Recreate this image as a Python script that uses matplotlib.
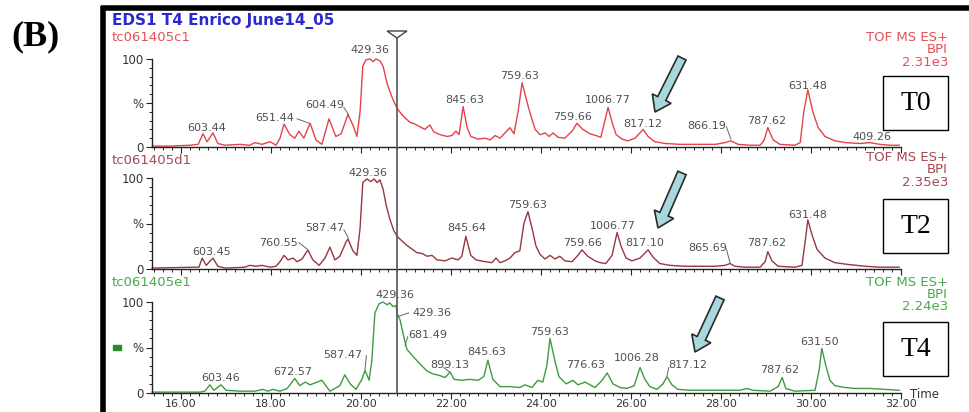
import matplotlib.pyplot as plt
from matplotlib.patches import FancyArrow, Polygon, Rectangle
from matplotlib.ticker import MultipleLocator

plt.rcParams['font.family'] = ['DejaVu Sans']

W, H = 969, 412

# base peak intensity traces: (retention time in min, % of max)
t0_trace = [
    (15.36, 1), (15.76, 1), (16.20, 2), (16.38, 3), (16.49, 15), (16.58, 6), (16.71, 16),
    (16.82, 4), (16.98, 2), (17.31, 3), (17.53, 2), (17.64, 5), (17.80, 3), (17.98, 6),
    (18.11, 2), (18.20, 10), (18.29, 26), (18.42, 14), (18.53, 10), (18.62, 18), (18.73, 10),
    (18.87, 27), (19.00, 8), (19.13, 3), (19.29, 32), (19.44, 12), (19.56, 15), (19.71, 37),
    (19.82, 25), (19.91, 12), (19.98, 40), (20.04, 92), (20.11, 99), (20.20, 100), (20.27, 97),
    (20.33, 100), (20.42, 98), (20.49, 92), (20.58, 72), (20.71, 54), (20.80, 44), (20.89, 38),
    (20.98, 33), (21.09, 28), (21.20, 26), (21.31, 23), (21.42, 20), (21.53, 25), (21.62, 17),
    (21.76, 14), (21.91, 12), (22.02, 13), (22.11, 18), (22.18, 14), (22.27, 46), (22.36, 22),
    (22.44, 12), (22.60, 9), (22.76, 10), (22.87, 8), (22.98, 13), (23.09, 10), (23.20, 16),
    (23.31, 22), (23.40, 15), (23.49, 40), (23.58, 73), (23.67, 55), (23.76, 38), (23.87, 20),
    (23.98, 14), (24.09, 16), (24.18, 12), (24.27, 16), (24.38, 11), (24.53, 10), (24.69, 18),
    (24.80, 27), (24.93, 20), (25.09, 15), (25.22, 13), (25.33, 11), (25.42, 30), (25.49, 45),
    (25.58, 28), (25.67, 14), (25.80, 9), (25.93, 7), (26.09, 10), (26.27, 20), (26.38, 12),
    (26.53, 6), (26.76, 4), (27.09, 3), (27.53, 3), (27.87, 3), (28.09, 5), (28.22, 7),
    (28.38, 3), (28.64, 2), (28.87, 2), (28.96, 8), (29.04, 22), (29.16, 8), (29.31, 3),
    (29.64, 2), (29.76, 5), (29.84, 40), (29.93, 65), (30.04, 40), (30.16, 22), (30.31, 12),
    (30.53, 7), (30.76, 5), (31.09, 4), (31.31, 5), (31.53, 3), (31.76, 2), (31.96, 2),
]
t2_trace = [
    (15.36, 1), (16.31, 2), (16.40, 2), (16.47, 12), (16.56, 4), (16.71, 12), (16.82, 3),
    (16.98, 1), (17.42, 2), (17.53, 4), (17.67, 3), (17.80, 4), (17.98, 2), (18.11, 3),
    (18.20, 8), (18.29, 15), (18.38, 10), (18.49, 12), (18.58, 8), (18.69, 11), (18.82, 21),
    (18.93, 10), (19.07, 4), (19.20, 12), (19.31, 24), (19.42, 10), (19.53, 14), (19.67, 30),
    (19.71, 33), (19.82, 20), (19.91, 15), (19.98, 45), (20.04, 95), (20.13, 99), (20.22, 96),
    (20.29, 99), (20.36, 95), (20.42, 98), (20.49, 88), (20.56, 70), (20.64, 55), (20.73, 42),
    (20.82, 35), (20.93, 30), (21.02, 26), (21.13, 22), (21.24, 18), (21.36, 17), (21.47, 14),
    (21.58, 15), (21.69, 10), (21.87, 9), (22.02, 12), (22.16, 10), (22.24, 14), (22.33, 36),
    (22.44, 15), (22.56, 10), (22.76, 8), (22.91, 7), (23.00, 12), (23.09, 7), (23.20, 9),
    (23.31, 12), (23.42, 18), (23.53, 20), (23.62, 50), (23.71, 63), (23.80, 45), (23.89, 25),
    (23.98, 16), (24.09, 11), (24.20, 15), (24.31, 11), (24.42, 14), (24.53, 9), (24.69, 8),
    (24.82, 15), (24.91, 21), (25.04, 14), (25.20, 9), (25.31, 7), (25.44, 6), (25.58, 15),
    (25.69, 40), (25.78, 25), (25.89, 12), (26.02, 9), (26.20, 12), (26.38, 21), (26.49, 13),
    (26.64, 6), (26.87, 4), (27.20, 3), (27.87, 3), (28.09, 4), (28.20, 6), (28.31, 3),
    (28.53, 2), (28.87, 2), (28.98, 8), (29.04, 19), (29.13, 9), (29.27, 3), (29.64, 2),
    (29.80, 4), (29.87, 30), (29.93, 54), (30.02, 38), (30.13, 22), (30.31, 12), (30.53, 7),
    (30.82, 5), (31.20, 3), (31.53, 2), (31.96, 2),
]
t4_trace = [
    (15.36, 1), (16.42, 1), (16.53, 2), (16.64, 9), (16.73, 3), (16.89, 9), (17.00, 3),
    (17.31, 2), (17.64, 2), (17.82, 4), (17.93, 2), (18.04, 4), (18.20, 2), (18.36, 5),
    (18.53, 16), (18.64, 8), (18.76, 12), (18.87, 9), (19.13, 14), (19.31, 2), (19.53, 8),
    (19.64, 20), (19.76, 10), (19.89, 4), (20.02, 15), (20.09, 25), (20.18, 14), (20.24, 35),
    (20.31, 88), (20.40, 98), (20.49, 100), (20.58, 97), (20.64, 99), (20.71, 95), (20.78, 96),
    (20.80, 88), (20.87, 80), (20.96, 60), (21.02, 48), (21.16, 40), (21.31, 32), (21.47, 24),
    (21.60, 21), (21.76, 19), (21.87, 17), (21.98, 23), (22.07, 15), (22.24, 14), (22.42, 15),
    (22.60, 14), (22.73, 18), (22.82, 36), (22.93, 15), (23.09, 7), (23.31, 7), (23.53, 6),
    (23.64, 9), (23.80, 6), (23.93, 14), (24.04, 12), (24.13, 30), (24.20, 60), (24.31, 35),
    (24.40, 18), (24.56, 10), (24.71, 14), (24.82, 9), (24.98, 12), (25.20, 6), (25.36, 14),
    (25.47, 22), (25.60, 10), (25.76, 6), (25.91, 5), (26.07, 8), (26.20, 28), (26.31, 15),
    (26.42, 7), (26.58, 4), (26.71, 10), (26.80, 18), (26.91, 9), (27.04, 4), (27.31, 3),
    (27.76, 3), (28.42, 3), (28.58, 5), (28.71, 3), (29.09, 2), (29.27, 7), (29.36, 17),
    (29.44, 5), (29.64, 2), (30.09, 3), (30.18, 25), (30.24, 49), (30.33, 30), (30.42, 14),
    (30.53, 8), (30.76, 6), (30.98, 5), (31.31, 5), (31.64, 4), (31.96, 3),
]

# peak annotations (m/z text, time, % height of the text centre)
t0_labels = [
    ("603.44", 16.58, 22), ("651.44", 18.09, 33), ("604.49", 19.20, 48), ("429.36", 20.20, 110),
    ("845.63", 22.31, 53), ("759.63", 23.53, 81), ("759.66", 24.69, 34), ("1006.77", 25.49, 53),
    ("817.12", 26.27, 26), ("866.19", 27.69, 24), ("787.62", 29.02, 30), ("631.48", 29.93, 69),
    ("409.26", 31.36, 11),
]
t2_labels = [
    ("603.45", 16.69, 19), ("760.55", 18.16, 29), ("587.47", 19.20, 45), ("429.36", 20.16, 105),
    ("845.64", 22.36, 45), ("759.63", 23.69, 70), ("759.66", 24.93, 29), ("1006.77", 25.60, 47),
    ("817.10", 26.31, 29), ("865.69", 27.71, 23), ("787.62", 29.02, 29), ("631.48", 29.93, 59),
]
t4_labels = [
    ("603.46", 16.87, 17), ("672.57", 18.49, 23), ("587.47", 19.60, 42), ("429.36", 20.76, 108),
    ("429.36", 21.58, 88), ("681.49", 21.49, 64), ("899.13", 21.98, 31), ("845.63", 22.80, 45),
    ("759.63", 24.20, 67), ("776.63", 25.00, 31), ("1006.28", 26.13, 38), ("817.12", 27.27, 31),
    ("787.62", 29.31, 25), ("631.50", 30.20, 56),
]
# leader lines from a label to its peak: (t_start, y_start, t_end, y_end)
t0_leaders = [(18.58, 32, 18.85, 27), (19.62, 45, 19.72, 37), (28.12, 23, 28.22, 9)]
t2_leaders = [(18.62, 29, 18.80, 22), (19.62, 43, 19.72, 34), (28.12, 22, 28.20, 7)]
t4_leaders = [(20.12, 41, 20.09, 26), (21.06, 88, 20.82, 84), (21.04, 62, 20.98, 52),
              (21.84, 28, 21.97, 23), (26.84, 28, 26.80, 19)]

scan_max = ["2.31e3", "2.35e3", "2.24e3"]
trace_names = ["tc061405c1", "tc061405d1", "tc061405e1"]
stage_tags = ["T0", "T2", "T4"]
cursor_time = 20.80
x_ticks = [16, 18, 20, 22, 24, 26, 28, 30, 32]

fig = plt.figure(figsize=(W / 100, H / 100), dpi=100)

over = fig.add_axes([0, 0, 1, 1], zorder=5)
over.set_xlim(0, W)
over.set_ylim(H, 0)
over.axis('off')

panels = [
    dict(trace=t0_trace, labels=t0_labels, leaders=t0_leaders, top=59, bottom=147,
         line='#e3434b', text='#e0525a', name_y=37, tof_y=37, box_y=76),
    dict(trace=t2_trace, labels=t2_labels, leaders=t2_leaders, top=178, bottom=269,
         line='#963840', text='#a24a52', name_y=160, tof_y=157, box_y=199),
    dict(trace=t4_trace, labels=t4_labels, leaders=t4_leaders, top=302, bottom=393,
         line='#3d9c3d', text='#4aa84a', name_y=283, tof_y=282, box_y=322),
]

axes = []
for i, p in enumerate(panels):
    ax = fig.add_axes([152 / W, 1 - p['bottom'] / H, (901 - 152) / W,
                       (p['bottom'] - p['top']) / H])
    ax.patch.set_alpha(0)
    ax.set_xlim(15.356, 32.0)
    ax.set_ylim(0, 100)
    for side in ['top', 'right']:
        ax.spines[side].set_visible(False)
    for side in ['left', 'bottom']:
        ax.spines[side].set_color('#222222')
        ax.spines[side].set_linewidth(1.0)

    ts, ys = zip(*p['trace'])
    ax.plot(ts, ys, color=p['line'], lw=1.0, clip_on=False)

    for s, t, y in p['labels']:
        ax.text(t, y, s, ha='center', va='center', fontsize=8, color='#505050')
    for t1, y1, t2, y2 in p['leaders']:
        ax.plot([t1, t2], [y1, y2], color='#666666', lw=0.7, clip_on=False)

    ax.set_yticks([0, 50, 100])
    ax.set_yticklabels(['0', '%', '100'])
    ax.yaxis.set_minor_locator(MultipleLocator(10))
    ax.set_xticks(x_ticks)
    ax.xaxis.set_minor_locator(MultipleLocator(0.2))
    ax.tick_params(which='major', direction='out', length=4, width=0.8, color='#222222',
                   labelsize=8.5, labelcolor='#333333', pad=2)
    ax.tick_params(axis='x', which='major', labelsize=8, pad=0.5)
    ax.tick_params(which='minor', direction='out', length=2.2, width=0.7, color='#222222')
    if i < 2:
        ax.tick_params(axis='x', labelbottom=False)
    else:
        ax.set_xticklabels([f"{v:.2f}" for v in x_ticks])
    axes.append(ax)

    # run name, scan info and stage tag
    over.text(112, p['name_y'], trace_names[i], ha='left', va='center', fontsize=9.5,
              color=p['text'])
    for k, s in enumerate(["TOF MS ES+", "BPI", scan_max[i]]):
        over.text(948, p['tof_y'] + 12.5 * k, s, ha='right', va='center', fontsize=9.5,
                  color=p['text'])
    over.add_patch(Rectangle((883, p['box_y']), 65, 54, fill=False, ec='black', lw=1.0))
    over.text(915.5, p['box_y'] + 27, stage_tags[i], ha='center', va='center',
              fontsize=20, family='Liberation Serif', color='black')

# frame and headings
over.plot([101, W], [7.5, 7.5], color='black', lw=4, solid_capstyle='butt')
over.plot([103.5, 103.5], [5.5, H], color='black', lw=4, solid_capstyle='butt')
over.text(36, 37, '(B)', ha='center', va='center', fontsize=26, weight='bold',
          family='Liberation Serif')
over.text(112, 21, 'EDS1 T4 Enrico June14_05', ha='left', va='center', fontsize=11,
          weight='bold', color='#2a2acc')
over.text(910, 394, 'Time', ha='left', va='center', fontsize=8.5, color='#333333')
over.add_patch(Rectangle((113, 345), 8, 5, color='#2a8a2a'))

# cursor line with its marker
xc = axes[0].transData.transform((cursor_time, 0))[0]
over.plot([xc, xc], [38, 393], color='#555555', lw=1.2)
over.add_patch(Polygon([(xc - 10, 31), (xc + 10, 31), (xc, 38)], closed=True,
                       fc='white', ec='#444444', lw=1.0))

# highlight arrows
for (x0, y0), (x1, y1) in [((682, 58), (655, 112)), ((682, 173), (658, 228)),
                           ((720, 298), (695, 352))]:
    over.add_patch(FancyArrow(x0, y0, x1 - x0, y1 - y0, width=9, head_width=21,
                              head_length=15, length_includes_head=True,
                              fc='#a8d8de', ec='#2a2a2a', lw=1.2))

fig.savefig('out.png', dpi=100)
